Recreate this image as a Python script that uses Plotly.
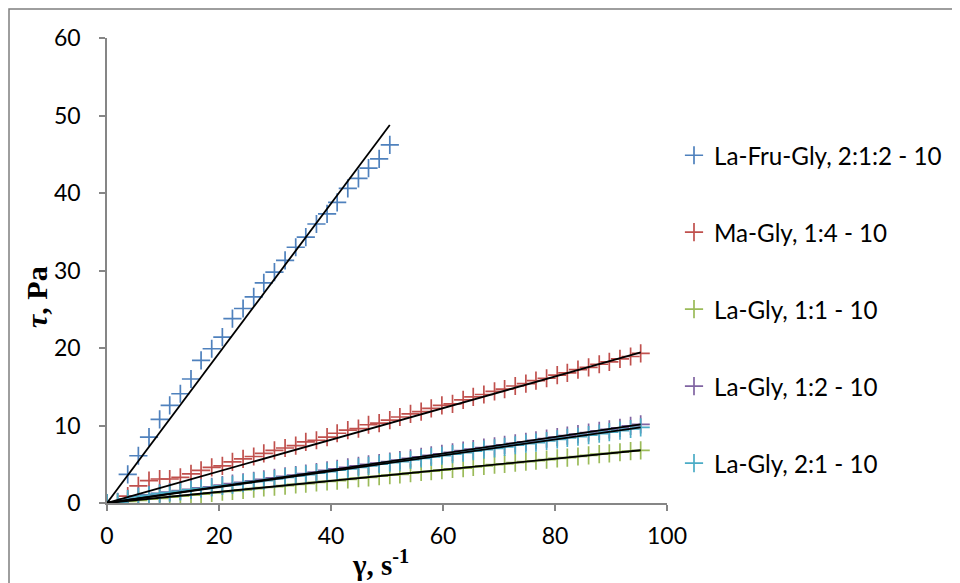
import plotly.graph_objects as go

# Shear rate, s-1 (shared by all series)
gamma = [0, 1.9, 3.7, 5.6, 7.5, 9.4, 11.2, 13.1, 15.0, 16.8, 18.7, 20.6, 22.4, 24.3,
         26.2, 28.0, 29.9, 31.8, 33.7, 35.5, 37.4, 39.3, 41.1, 43.0, 44.9, 46.7,
         48.6, 50.5, 52.3, 54.2, 56.1, 57.9, 59.8, 61.7, 63.6, 65.4, 67.3, 69.2,
         71.0, 72.9, 74.8, 76.6, 78.5, 80.4, 82.2, 84.1, 86.0, 87.9, 89.7, 91.6,
         93.5, 95.3]

# Shear stress, Pa
la_fru_gly = [0, None, 3.7, 6.1, 8.5, 10.8, 12.6, 14.1, 16.0, 18.4, 19.9, 21.4, 23.8,
              25.1, 26.6, 28.4, 29.8, 31.3, 33.0, 34.3, 36.0, 37.3, 38.8, 40.6, 41.9,
              43.2, 44.4, 46.2]
ma_gly = [0, None, 0.9, 2.2, 2.9, 3.1, 3.1, 3.3, 3.75, 4.2, 4.6, 4.8, 5.3, 5.7, 6.0,
          6.4, 6.8, 7.1, 7.4, 7.9, 8.1, 8.5, 9.0, 9.4, 9.6, 10.1, 10.3, 10.7, 11.1,
          11.5, 11.8, 12.2, 12.6, 12.8, 13.3, 13.7, 14.0, 14.4, 14.7, 15.1, 15.4,
          15.8, 16.1, 16.5, 16.8, 17.2, 17.5, 17.9, 18.2, 18.6, 18.9, 19.3]
la_gly_11 = [0, 0.1, 0.2, 0.35, 0.5, 0.6, 0.75, 0.9, 1.0, 1.15, 1.3, 1.45, 1.55, 1.7,
             1.85, 2.0, 2.1, 2.25, 2.4, 2.5, 2.65, 2.8, 2.9, 3.05, 3.2, 3.3, 3.45, 3.6,
             3.7, 3.85, 4.0, 4.1, 4.25, 4.4, 4.5, 4.65, 4.8, 4.95, 5.05, 5.2, 5.35,
             5.45, 5.6, 5.75, 5.85, 6.0, 6.15, 6.3, 6.4, 6.55, 6.7, 6.8]
la_gly_12 = [0, 0.15, 0.55, 0.85, 1.05, 1.25, 1.4, 1.6, 1.75, 1.95, 2.1, 2.3, 2.5, 2.65,
             2.85, 3.05, 3.25, 3.45, 3.6, 3.8, 4.0, 4.2, 4.4, 4.6, 4.8, 5.0, 5.15,
             5.35, 5.55, 5.75, 5.95, 6.15, 6.35, 6.55, 6.75, 6.95, 7.15, 7.3, 7.5,
             7.7, 7.9, 8.1, 8.3, 8.5, 8.7, 8.9, 9.1, 9.3, 9.5, 9.7, 9.95, 10.15]
la_gly_21 = [0, 0.1, 0.5, 0.8, 1.0, 1.2, 1.35, 1.5, 1.7, 1.85, 2.0, 2.2, 2.35, 2.55,
             2.75, 2.9, 3.1, 3.3, 3.5, 3.65, 3.85, 4.05, 4.25, 4.4, 4.6, 4.8, 5.0, 5.2,
             5.35, 5.55, 5.75, 5.95, 6.1, 6.3, 6.5, 6.7, 6.9, 7.05, 7.25, 7.45, 7.65,
             7.8, 8.0, 8.2, 8.4, 8.55, 8.75, 8.95, 9.15, 9.35, 9.55, 9.75]

names = ["La-Fru-Gly, 2:1:2 - 10", "Ma-Gly, 1:4 - 10", "La-Gly, 1:1 - 10",
         "La-Gly, 1:2 - 10", "La-Gly, 2:1 - 10"]
series = [la_fru_gly, ma_gly, la_gly_11, la_gly_12, la_gly_21]
colors = ["#4F81BD", "#C0504D", "#9BBB59", "#8064A2", "#4BACC6"]

# linear trendlines through the origin (slope, end of range)
fit_slope = [0.966, 0.204, 0.0714, 0.1065, 0.1025]
fit_xmax = [50.5, 95.3, 95.3, 95.3, 95.3]

# plot area on screen (left, right, top, bottom); the page body adds 8px margin
OFF = 8
L, R, T, B = 107, 667, 38, 503
W, H = R - L, B - T

fig = go.Figure()

for i, (name, ys) in enumerate(zip(names, series)):
    fig.add_trace(go.Scatter(
        x=gamma[:len(ys)], y=ys, mode="markers", name=name,
        legendgroup=name,
        marker=dict(symbol="cross-thin", size=13,
                    line=dict(color=colors[i], width=1.7)),
    ))

for i in range(len(series)):
    fig.add_trace(go.Scatter(
        x=[0, fit_xmax[i]], y=[0, fit_slope[i] * fit_xmax[i]],
        mode="lines", line=dict(color="black", width=1.8),
        showlegend=False, hoverinfo="skip",
    ))

# outer chart border
fig.add_shape(type="rect", xref="paper", yref="paper",
              x0=(9 - L) / W, x1=(955 - L) / W,
              y0=(B - 620) / H, y1=(B - 9) / H,
              line=dict(color="#7F7F7F", width=1.5), layer="below")

# axis titles
fig.add_annotation(text="<b>γ, s<sup>-1</sup></b>", xref="paper", yref="paper",
                   x=(380 - L) / W, y=(B - 563) / H, showarrow=False,
                   xanchor="center", yanchor="middle",
                   font=dict(family="Liberation Serif", size=29, color="black"))
fig.add_annotation(text="<b><i>τ</i>, Pa</b>", xref="paper", yref="paper",
                   x=(36 - L) / W, y=(B - 297) / H, showarrow=False,
                   textangle=-90, xanchor="center", yanchor="middle",
                   font=dict(family="Liberation Serif", size=30, color="black"))

fig.update_layout(
    width=960, height=583,
    margin=dict(l=L - OFF, r=960 - (R - OFF), t=T - OFF, b=583 - (B - OFF),
                autoexpand=False),
    plot_bgcolor="white", paper_bgcolor="white",
    font=dict(family="Lato", size=23, color="black"),
    legend=dict(x=(674 - L) / W, y=(B - 133) / H, xanchor="left", yanchor="top",
                tracegroupgap=42.5, font=dict(size=24.2), itemwidth=30,
                bgcolor="rgba(0,0,0,0)"),
    xaxis=dict(
        range=[0, 100], tickvals=[0, 20, 40, 60, 80, 100],
        showgrid=False, zeroline=False, showline=True, automargin=False,
        linecolor="#868686", linewidth=1.5,
        ticks="outside", ticklen=6, tickcolor="#868686", tickwidth=1.5,
        ticklabelstandoff=6, tickfont=dict(size=23),
    ),
    yaxis=dict(
        range=[0, 60], tickvals=[0, 10, 20, 30, 40, 50, 60],
        showgrid=False, zeroline=False, showline=True, automargin=False,
        linecolor="#868686", linewidth=1.5,
        ticks="outside", ticklen=6, tickcolor="#868686", tickwidth=1.5,
        ticklabelstandoff=14, tickfont=dict(size=23),
    ),
)

fig.write_html("out.html")
